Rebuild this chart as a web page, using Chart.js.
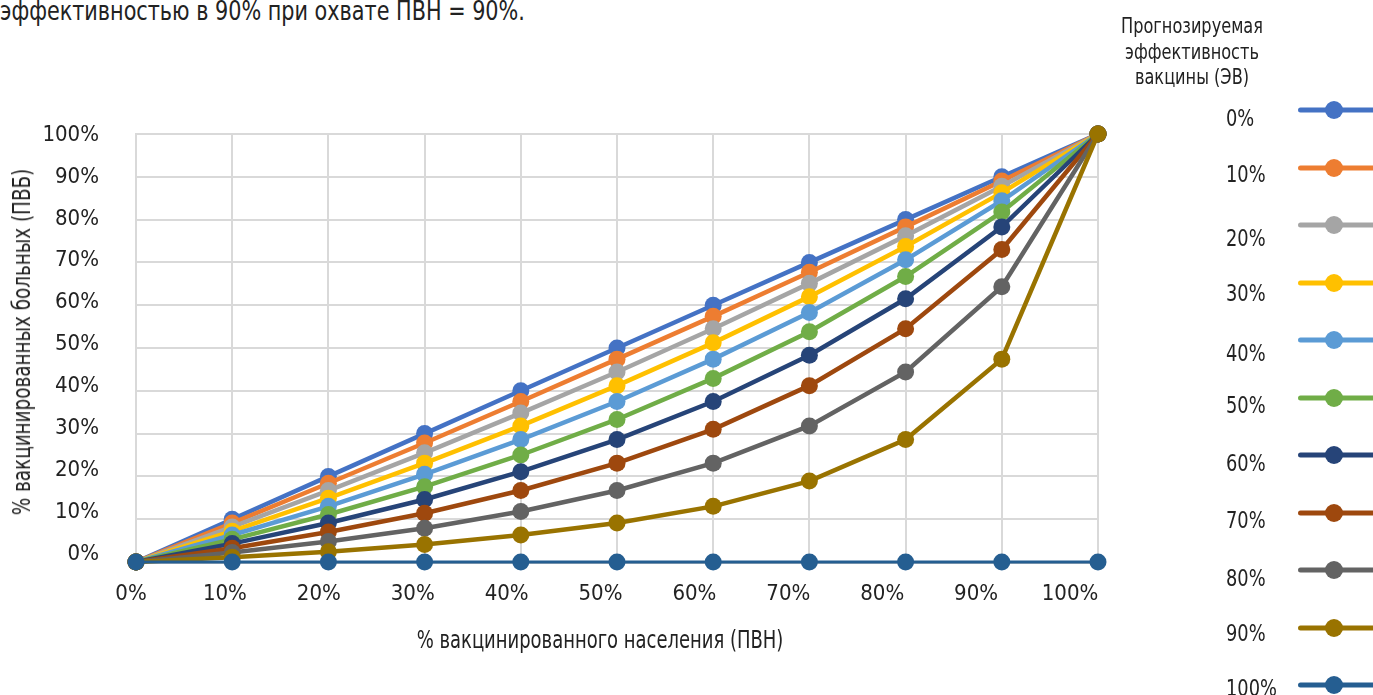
<!DOCTYPE html>
<html lang="ru">
<head>
<meta charset="utf-8">
<title>ПВБ и ПВН</title>
<script src="https://cdn.jsdelivr.net/npm/chart.js@4.4.1/dist/chart.umd.min.js"></script>
<style>
  html, body { margin: 0; padding: 0; background: #fff; overflow: hidden; }
  body { width: 1373px; height: 695px; position: relative;
         font-family: "DejaVu Sans Condensed", "Liberation Sans", sans-serif; color: #222; }
  #chart { position: absolute; left: 0; top: 0; }
  .txt { position: absolute; white-space: nowrap; line-height: 1; }
  #lead { left: 0; top: -3px; font-size: 27px; transform-origin: 0 0; }
  #xTitle { left: 600px; top: 640px; font-size: 24px; }
  #yTitle { left: 22px; top: 342px; font-size: 24px; }
  #legTitle { left: 1192px; top: 14px; font-size: 21px; line-height: 25.5px; text-align: center; }
  .legLabel { position: absolute; left: 1226px; font-size: 23px; line-height: 1; white-space: nowrap;
              transform-origin: 0 50%; }
  .legLine { position: absolute; left: 1298px; width: 90px; height: 5px; border-radius: 3px; transform: translateY(-50%); }
  .legDot { position: absolute; left: 1325px; width: 18px; height: 18px; border-radius: 50%; transform: translateY(-50%); }
</style>
</head>
<body>
<div id="lead" class="txt">эффективностью в 90% при охвате ПВН = 90%.</div>
<canvas id="chart" width="1373" height="695"></canvas>
<div id="xTitle" class="txt">% вакцинированного населения (ПВН)</div>
<div id="yTitle" class="txt">% вакцинированных больных (ПВБ)</div>
<div id="legTitle" class="txt">Прогнозируемая<br>эффективность<br>вакцины (ЭВ)</div>
<div id="legend"></div>

<script>
// Coverage of the population (ПВН), %
const coverage = [0, 10, 20, 30, 40, 50, 60, 70, 80, 90, 100];
const coverageLabels = ['0%', '10%', '20%', '30%', '40%', '50%', '60%', '70%', '80%', '90%', '100%'];

// Vaccine effectiveness series (ЭВ)
const efficacyLabels = ['0%', '10%', '20%', '30%', '40%', '50%', '60%', '70%', '80%', '90%', '100%'];

// Share of vaccinated among cases (ПВБ), % for each ЭВ
const ev0   = [0, 10.0, 20.0, 30.0, 40.0, 50.0, 60.0, 70.0, 80.0, 90.0, 100];
const ev10  = [0,  9.1, 18.4, 27.8, 37.5, 47.4, 57.4, 67.7, 78.3, 89.0, 100];
const ev20  = [0,  8.2, 16.7, 25.5, 34.8, 44.4, 54.5, 65.1, 76.2, 87.8, 100];
const ev30  = [0,  7.2, 14.9, 23.1, 31.8, 41.2, 51.2, 62.0, 73.7, 86.3, 100];
const ev40  = [0,  6.3, 13.0, 20.5, 28.6, 37.5, 47.4, 58.3, 70.6, 84.4, 100];
const ev50  = [0,  5.3, 11.1, 17.6, 25.0, 33.3, 42.9, 53.8, 66.7, 81.8, 100];
const ev60  = [0,  4.3,  9.1, 14.6, 21.1, 28.6, 37.5, 48.3, 61.5, 78.3, 100];
const ev70  = [0,  3.2,  7.0, 11.4, 16.7, 23.1, 31.0, 41.2, 54.5, 73.0, 100];
const ev80  = [0,  2.2,  4.8,  7.9, 11.8, 16.7, 23.1, 31.8, 44.4, 64.3, 100];
const ev90  = [0,  1.1,  2.4,  4.1,  6.3,  9.1, 13.0, 18.9, 28.6, 47.4, 100];
const ev100 = [0,  0,    0,    0,    0,    0,    0,    0,    0,    0,    0];

// Y tick values, %
const yTicks = [0, 10, 20, 30, 40, 50, 60, 70, 80, 90, 100];

const seriesValues = [ev0, ev10, ev20, ev30, ev40, ev50, ev60, ev70, ev80, ev90, ev100];
const seriesColors = ['#4472C4', '#ED7D31', '#A5A5A5', '#FFC000', '#5B9BD5', '#70AD47',
                      '#264478', '#9E480E', '#636363', '#997300', '#255E91'];

const tickFont = { family: '"DejaVu Sans Condensed", "Liberation Sans", sans-serif', size: 22 };

const datasets = seriesValues.map((vals, i) => ({
  label: efficacyLabels[i],
  data: vals,
  borderColor: seriesColors[i],
  backgroundColor: seriesColors[i],
  borderWidth: i === seriesValues.length - 1 ? 3 : 4.5,
  pointRadius: 8.5,
  pointBorderWidth: 0,
  pointBackgroundColor: seriesColors[i],
  tension: 0,
  clip: false,
  order: seriesValues.length - i   // later series drawn on top
}));

new Chart(document.getElementById('chart'), {
  type: 'line',
  data: { labels: coverageLabels, datasets },
  options: {
    responsive: false,
    animation: false,
    events: [],
    layout: { padding: { left: 0, top: 134, right: 275, bottom: 0 } },
    plugins: { legend: { display: false }, tooltip: { enabled: false } },
    scales: {
      // value axes carrying the grid
      x: {
        type: 'category', offset: false,
        grid: { color: '#d9d9d9', lineWidth: 2, drawTicks: false },
        border: { color: '#c4c4c4', width: 3 },
        ticks: { display: false },
        afterFit(s) { s.height = 0; }
      },
      y: {
        min: 0, max: 100,
        grid: { color: '#d9d9d9', lineWidth: 2, drawTicks: false },
        border: { color: '#d9d9d9', width: 2 },
        ticks: { display: false, stepSize: 10 },
        afterFit(s) { s.width = 0; }
      },
      // label axes, slightly tighter spacing than the grid
      xl: {
        type: 'linear', position: 'bottom',
        min: 0.53, max: 102.98,
        grid: { display: false, drawTicks: false },
        border: { display: false },
        ticks: { color: '#222', font: tickFont, padding: 19, maxRotation: 0,
                 callback: v => v + '%' },
        afterBuildTicks(s) { s.ticks = coverage.map(v => ({ value: v })); },
        afterFit(s) { s.height = 133; }
      },
      yl: {
        type: 'linear', position: 'left',
        min: -1.91, max: 100.24,
        grid: { display: false, drawTicks: false },
        border: { display: false },
        ticks: { color: '#222', font: tickFont, padding: 37,
                 callback: v => v + '%' },
        afterBuildTicks(s) { s.ticks = yTicks.map(v => ({ value: v })); },
        afterFit(s) { s.width = 136; }
      }
    }
  }
});

// Legend: line sample with marker, label to its left
const legendLineY = efficacyLabels.map((_, i) => 110 + 57.5 * i);
const legendTextY = [118, 174, 238, 293, 353, 405, 463, 520, 578, 633, 688];
const legend = document.getElementById('legend');
efficacyLabels.forEach((lab, i) => {
  const t = document.createElement('div');
  t.className = 'legLabel';
  t.style.top = legendTextY[i] + 'px';
  t.style.transform = 'translateY(-50%) scaleX(0.86)';
  t.textContent = lab;
  legend.appendChild(t);
  const l = document.createElement('div');
  l.className = 'legLine';
  l.style.top = legendLineY[i] + 'px';
  l.style.background = seriesColors[i];
  legend.appendChild(l);
  const d = document.createElement('div');
  d.className = 'legDot';
  d.style.top = legendLineY[i] + 'px';
  d.style.background = seriesColors[i];
  legend.appendChild(d);
});

// Condense text blocks to their set widths
function fit(id, width, extra) {
  const el = document.getElementById(id);
  const k = width / el.offsetWidth;
  el.style.transform = (extra || '') + ' scaleX(' + k.toFixed(3) + ')';
}
fit('lead', 525, '');
fit('xTitle', 367, 'translate(-50%, -50%)');
fit('yTitle', 347, 'translate(-50%, -50%) rotate(-90deg)');
fit('legTitle', 142, 'translateX(-50%)');
</script>
</body>
</html>
